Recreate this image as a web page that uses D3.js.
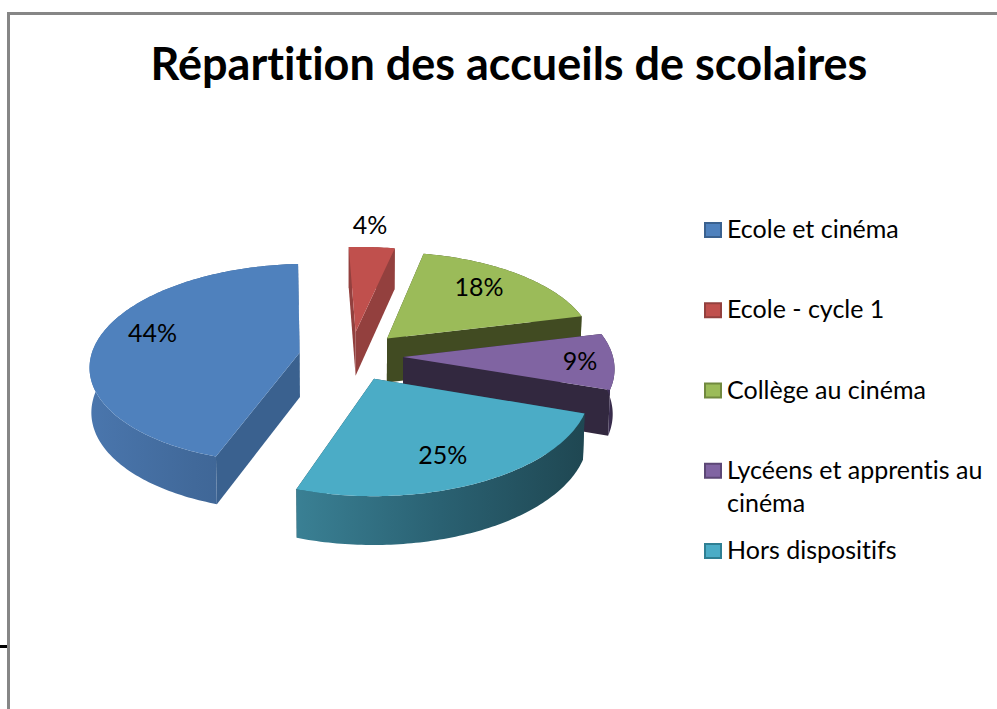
<!DOCTYPE html>
<html>
<head>
<meta charset="utf-8">
<script src="https://cdn.jsdelivr.net/npm/d3@7"></script>
<style>
  html, body { margin: 0; padding: 0; background: #fff; }
  svg { display: block; font-family: Lato, "Noto Sans", sans-serif; font-variant-ligatures: none; }
</style>
</head>
<body>
<svg id="chart" width="997" height="709"></svg>
<script>
const categories = ["Ecole et cinéma", "Ecole - cycle 1", "Collège au cinéma", "Lycéens et apprentis au cinéma", "Hors dispositifs"];
const shares = [44, 4, 18, 9, 25];
const title = "Répartition des accueils de scolaires";

const topColors = ["#4f81bd", "#c0504d", "#9bbb59", "#8064a2", "#4bacc6"];
const wallColors = ["#3a618f", "#93403e", "#414b22", "#32283f", "#1f4752"];
const rimStops = [
  ["#4a76ad", "#41699a", "#3a5f8e"],
  ["#93403e", "#93403e", "#93403e"],
  ["#414b22", "#414b22", "#414b22"],
  ["#4a3862", "#40315a", "#32283f"],
  ["#3a8094", "#2a6172", "#1f4752"]
];
const swatchEdges = ["#3a618f", "#93403e", "#71893f", "#5c4776", "#2f7f93"];

// label placement, in fractions of the radius and degrees away from the middle of the slice
const labelRadius = [0.76, 1.29, 0.74, 0.84, 0.74];
const labelTurn = [7.6, -1.5, -3.8, 0, 2.5];

const svg = d3.select("#chart");
const defs = svg.append("defs");

// frame
svg.append("path").attr("d", "M997,13.5H8.5V709").attr("fill", "none").attr("stroke", "#868686").attr("stroke-width", 3);
svg.append("line").attr("x1", 0).attr("x2", 7).attr("y1", 646.5).attr("y2", 646.5).attr("stroke", "#000").attr("stroke-width", 3);

svg.append("text")
  .attr("x", 509).attr("y", 80)
  .attr("text-anchor", "middle")
  .attr("font-size", 45).attr("font-weight", 700).attr("fill", "#000")
  .text(title);

// pie projection
const cx = 351, cy = 356;
const radiusX = 209, radiusY = 99.2, perspective = 0.109;
const thickness = 44.5, explode = 0.25;
const roll = 0.008;
const rad = Math.PI / 180;

const pie = d3.pie().sort(null).startAngle(199.6 * rad).endAngle((199.6 + 360) * rad);
const slices = pie(shares).map((d, i) => {
  const mid = (d.startAngle + d.endAngle) / 2;
  return { ...d, i, mid, ox: explode * Math.sin(mid), oz: -explode * Math.cos(mid) };
});

function project(s, angle, r, drop) {
  const X = s.ox + r * Math.sin(angle);
  const Z = s.oz - r * Math.cos(angle);
  const w = 1 - perspective * Z;
  const dx = radiusX * X / w;
  return [
    cx + dx * (1 - 0.007 * drop),
    cy + radiusY * Z / w - roll * dx + thickness * drop / Math.pow(w, 0.65)
  ];
}

const line = d3.line();
const closed = pts => line(pts) + "Z";

function rimAngles(s) {
  const a = d3.range(s.startAngle, s.endAngle, 1 * rad);
  a.push(s.endAngle);
  return a;
}

function radialWall(s, angle) {
  return closed([project(s, angle, 0, 0), project(s, angle, 1, 0), project(s, angle, 1, 1), project(s, angle, 0, 1)]);
}

slices.forEach(s => {
  const g = defs.append("linearGradient").attr("id", "rim" + s.i);
  rimStops[s.i].forEach((c, k) => {
    g.append("stop").attr("offset", k / 2).attr("stop-color", c);
  });
});

// far slices first so the near ones sit on top
const drawOrder = d3.sort(slices, s => -Math.cos(s.mid));
const pieG = svg.append("g");

drawOrder.forEach(s => {
  const g = pieG.append("g");
  const angles = rimAngles(s);

  const walls = d3.sort([s.startAngle, s.endAngle], a => -Math.cos(a));
  walls.forEach(a => {
    g.append("path").attr("d", radialWall(s, a)).attr("fill", wallColors[s.i]);
  });

  const rimTop = angles.map(a => project(s, a, 1, 0));
  const rimBottom = angles.map(a => project(s, a, 1, 1)).reverse();
  g.append("path").attr("d", closed(rimTop.concat(rimBottom))).attr("fill", `url(#rim${s.i})`);

  g.append("path")
    .attr("d", closed([project(s, 0, 0, 0)].concat(rimTop)))
    .attr("fill", topColors[s.i]);
});

// percentage labels
svg.append("g").selectAll("text")
  .data(slices)
  .enter()
  .append("text")
  .attr("x", d => project(d, d.mid + labelTurn[d.i] * rad, labelRadius[d.i], 0)[0])
  .attr("y", d => project(d, d.mid + labelTurn[d.i] * rad, labelRadius[d.i], 0)[1] + 9)
  .attr("text-anchor", "middle")
  .attr("font-size", 25)
  .attr("fill", "#000")
  .text(d => d.data + "%");

// legend
const legendY = d3.scalePoint().domain(categories).range([230, 551]);
const legend = svg.append("g").selectAll("g")
  .data(categories)
  .enter()
  .append("g")
  .attr("transform", d => `translate(704,${legendY(d)})`);

legend.append("rect")
  .attr("x", 1).attr("y", -7)
  .attr("width", 16).attr("height", 14)
  .attr("fill", (d, i) => topColors[i])
  .attr("stroke", (d, i) => swatchEdges[i])
  .attr("stroke-width", 2);

legend.append("text")
  .attr("font-size", 25)
  .attr("fill", "#000")
  .each(function (d) {
    const text = d3.select(this);
    let row = text.append("tspan").attr("x", 23).attr("y", 8);
    let current = [];
    d.split(" ").forEach(word => {
      current.push(word);
      row.text(current.join(" "));
      if (row.node().getComputedTextLength() > 265) {
        current.pop();
        row.text(current.join(" "));
        current = [word];
        row = text.append("tspan").attr("x", 23).attr("dy", 33).text(word);
      }
    });
  });
</script>
</body>
</html>
